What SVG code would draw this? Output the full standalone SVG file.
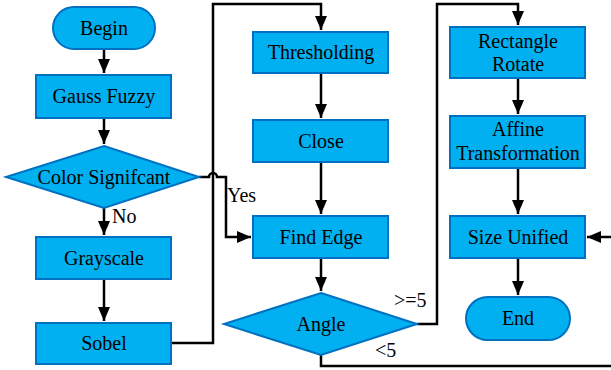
<svg xmlns="http://www.w3.org/2000/svg" width="611" height="370" viewBox="0 0 611 370">
<style>
.n{fill:#00B0F0;stroke:#0070C0;stroke-width:2}
.c{fill:none;stroke:#000;stroke-width:2.5}
</style>
<defs>
<marker id="a" markerUnits="userSpaceOnUse" markerWidth="16" markerHeight="14" refX="14" refY="6" orient="auto">
<path d="M0,0 L14,6 L0,12 Z" fill="#000"/>
</marker>
</defs>
<rect width="611" height="370" fill="#fff"/>
<g id="connectors">
<path class="c" d="M104,49 V73" marker-end="url(#a)"/>
<path class="c" d="M104,118 V144" marker-end="url(#a)"/>
<path class="c" d="M104,208 V235" marker-end="url(#a)"/>
<path class="c" d="M104,279 V321" marker-end="url(#a)"/>
<path class="c" d="M171,343 H213 V4 H321 V30" marker-end="url(#a)"/>
<path class="c" d="M199,177 H209 A4,4 0 0 1 217,177 H226 V237 H251" marker-end="url(#a)"/>
<path class="c" d="M321,73 V118" marker-end="url(#a)"/>
<path class="c" d="M321,162 V214" marker-end="url(#a)"/>
<path class="c" d="M321,258 V291" marker-end="url(#a)"/>
<path class="c" d="M417,324 H437 V4 H518 V25" marker-end="url(#a)"/>
<path class="c" d="M321,355 V366 H616 V237 H587" marker-end="url(#a)"/>
<path class="c" d="M518,78 V114" marker-end="url(#a)"/>
<path class="c" d="M518,168 V214" marker-end="url(#a)"/>
<path class="c" d="M518,258 V295" marker-end="url(#a)"/>
<g font-family="Liberation Serif, Times New Roman, serif" font-size="20" fill="#000">
<text x="112" y="223">No</text>
<text x="227" y="202">Yes</text>
<text x="394" y="307">&gt;=5</text>
<text x="375" y="357">&lt;5</text>
</g>
</g>
<g font-family="Liberation Serif, Times New Roman, serif" font-size="20" fill="#000" text-anchor="middle">
<g id="begin"><rect class="n" x="53" y="7" width="102" height="42" rx="21"/><text x="104" y="35">Begin</text></g>
<g id="gauss"><rect class="n" x="36" y="75" width="135" height="43"/><text x="104" y="103">Gauss Fuzzy</text></g>
<g id="color"><polygon class="n" points="104,146 199,177 104,208 6,177"/><text x="104" y="184">Color Signifcant</text></g>
<g id="gray"><rect class="n" x="36" y="237" width="135" height="42"/><text x="104" y="265">Grayscale</text></g>
<g id="sobel"><rect class="n" x="36" y="323" width="135" height="41"/><text x="104" y="350">Sobel</text></g>
<g id="thresh"><rect class="n" x="253" y="32" width="135" height="41"/><text x="321" y="59">Thresholding</text></g>
<g id="close"><rect class="n" x="253" y="120" width="135" height="42"/><text x="321" y="148">Close</text></g>
<g id="findedge"><rect class="n" x="253" y="216" width="135" height="42"/><text x="321" y="244">Find Edge</text></g>
<g id="angle"><polygon class="n" points="321,293 417,324 321,355 224,324"/><text x="321" y="331">Angle</text></g>
<g id="rect"><rect class="n" x="450" y="27" width="135" height="51"/><text x="518" y="48">Rectangle</text><text x="518" y="71">Rotate</text></g>
<g id="affine"><rect class="n" x="450" y="116" width="135" height="52"/><text x="518" y="136">Affine</text><text x="518" y="160">Transformation</text></g>
<g id="size"><rect class="n" x="450" y="216" width="135" height="42"/><text x="518" y="244">Size Unified</text></g>
<g id="end"><rect class="n" x="466" y="297" width="104" height="43" rx="21.5"/><text x="518" y="325">End</text></g>
</g>
</svg>
